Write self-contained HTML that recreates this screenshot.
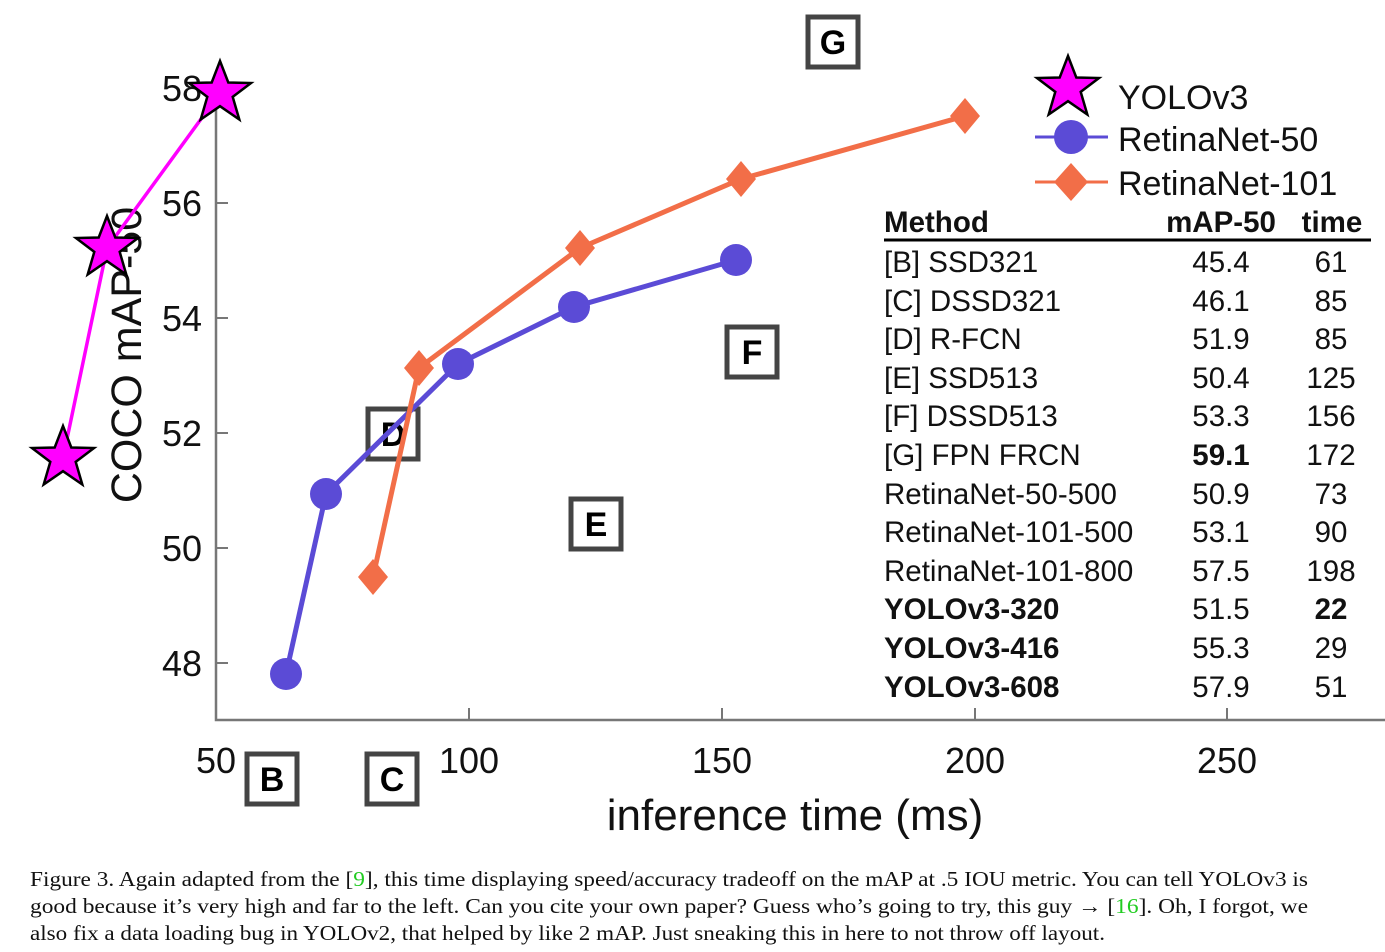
<!DOCTYPE html>
<html><head><meta charset="utf-8"><style>
html,body{margin:0;padding:0;background:#fff;width:1385px;height:952px;overflow:hidden}
svg{display:block}
.t{font-family:"Liberation Sans",sans-serif;fill:#111}
.c{font-family:"Liberation Serif",serif;font-size:21px;fill:#111}
</style></head><body>
<svg width="1385" height="952" viewBox="0 0 1385 952" xmlns="http://www.w3.org/2000/svg">
<defs>
<polygon id="star" points="0,-32 8.3,-10.5 31,-10 12.7,3.9 19.3,26.5 0,13.2 -19.3,26.5 -12.7,3.9 -31,-10 -8.3,-10.5" fill="#f0f" stroke="#000" stroke-width="2.5" stroke-linejoin="miter"/>
</defs>
<path d="M216,88 V720 H1385" fill="none" stroke="#777" stroke-width="2.5"/>
<g stroke="#777" stroke-width="2">
<path d="M216,203h12M216,318h12M216,433h12M216,548h12M216,663h12"/>
<path d="M469,720v-12M722,720v-12M975,720v-12M1227,720v-12"/>
</g>
<g class="t" font-size="36" text-anchor="end">
<text x="202" y="101">58</text><text x="202" y="216">56</text><text x="202" y="331">54</text>
<text x="202" y="446">52</text><text x="202" y="561">50</text><text x="202" y="676">48</text>
</g>
<g class="t" font-size="36" text-anchor="middle">
<text x="216" y="773">50</text><text x="469" y="773">100</text><text x="722" y="773">150</text>
<text x="975" y="773">200</text><text x="1227" y="773">250</text>
</g>
<text class="t" font-size="44" x="795" y="830" text-anchor="middle">inference time (ms)</text>
<text class="t" font-size="43" transform="translate(141,355) rotate(-90)" text-anchor="middle">COCO mAP-50</text>
<g font-family="Liberation Sans,sans-serif" font-weight="bold" font-size="34" text-anchor="middle">
<g><rect x="808" y="17" width="50" height="50" fill="#fff" stroke="#444" stroke-width="5"/><text x="833" y="54">G</text></g>
<g><rect x="727" y="327" width="50" height="50" fill="#fff" stroke="#444" stroke-width="5"/><text x="752" y="364">F</text></g>
<g><rect x="571" y="499" width="50" height="50" fill="#fff" stroke="#444" stroke-width="5"/><text x="596" y="536">E</text></g>
<g><rect x="368" y="409" width="50" height="50" fill="#fff" stroke="#444" stroke-width="5"/><text x="393" y="446">D</text></g>
<g><rect x="247" y="754" width="50" height="50" fill="#fff" stroke="#444" stroke-width="5"/><text x="272" y="791">B</text></g>
<g><rect x="367" y="754" width="50" height="50" fill="#fff" stroke="#444" stroke-width="5"/><text x="392" y="791">C</text></g>
</g>
<polyline points="286,674 326,494 458,364 574,307 736,260" fill="none" stroke="#5b4bd6" stroke-width="5"/>
<g fill="#5b4bd6"><circle cx="286" cy="674" r="16"/><circle cx="326" cy="494" r="16"/><circle cx="458" cy="364" r="16"/><circle cx="574" cy="307" r="16"/><circle cx="736" cy="260" r="16"/></g>
<polyline points="373,577 419,368 580,248 741,179 965,116" fill="none" stroke="#f26e48" stroke-width="5"/>
<g fill="#f26e48">
<polygon points="373,559 388,577 373,595 358,577"/><polygon points="419,350 434,368 419,386 404,368"/>
<polygon points="580,230 595,248 580,266 565,248"/><polygon points="741,161 756,179 741,197 726,179"/>
<polygon points="965,98 980,116 965,134 950,116"/>
</g>
<polyline points="63,458 107,248 220,93" fill="none" stroke="#f0f" stroke-width="3.5"/>
<use href="#star" x="63" y="458"/><use href="#star" x="107" y="248"/><use href="#star" x="220" y="93"/>
<use href="#star" x="1068" y="88"/>
<text class="t" font-size="34" x="1118" y="109">YOLOv3</text>
<line x1="1035" y1="137" x2="1108" y2="137" stroke="#5b4bd6" stroke-width="3"/>
<circle cx="1071" cy="137" r="17" fill="#5b4bd6"/>
<text class="t" font-size="34" x="1118" y="151">RetinaNet-50</text>
<line x1="1035" y1="182" x2="1108" y2="182" stroke="#f26e48" stroke-width="3"/>
<polygon points="1071,163 1088,182 1071,201 1054,182" fill="#f26e48"/>
<text class="t" font-size="34" x="1118" y="195">RetinaNet-101</text>
<g class="t" font-size="29.5">
<text x="884" y="232" font-weight="bold">Method</text>
<text x="1221" y="232" font-weight="bold" text-anchor="middle">mAP-50</text>
<text x="1332" y="232" font-weight="bold" text-anchor="middle">time</text>
<line x1="884" y1="240" x2="1371" y2="240" stroke="#000" stroke-width="3"/>
<g>
<text x="884" y="272">[B] SSD321</text>
<text x="884" y="311">[C] DSSD321</text>
<text x="884" y="349">[D] R-FCN</text>
<text x="884" y="388">[E] SSD513</text>
<text x="884" y="426">[F] DSSD513</text>
<text x="884" y="465">[G] FPN FRCN</text>
<text x="884" y="504">RetinaNet-50-500</text>
<text x="884" y="542">RetinaNet-101-500</text>
<text x="884" y="581">RetinaNet-101-800</text>
<text x="884" y="619" font-weight="bold">YOLOv3-320</text>
<text x="884" y="658" font-weight="bold">YOLOv3-416</text>
<text x="884" y="697" font-weight="bold">YOLOv3-608</text>
</g>
<g text-anchor="middle">
<text x="1221" y="272">45.4</text><text x="1221" y="311">46.1</text><text x="1221" y="349">51.9</text>
<text x="1221" y="388">50.4</text><text x="1221" y="426">53.3</text><text x="1221" y="465" font-weight="bold">59.1</text>
<text x="1221" y="504">50.9</text><text x="1221" y="542">53.1</text><text x="1221" y="581">57.5</text>
<text x="1221" y="619">51.5</text><text x="1221" y="658">55.3</text><text x="1221" y="697">57.9</text>
<text x="1331" y="272">61</text><text x="1331" y="311">85</text><text x="1331" y="349">85</text>
<text x="1331" y="388">125</text><text x="1331" y="426">156</text><text x="1331" y="465">172</text>
<text x="1331" y="504">73</text><text x="1331" y="542">90</text><text x="1331" y="581">198</text>
<text x="1331" y="619" font-weight="bold">22</text><text x="1331" y="658">29</text><text x="1331" y="697">51</text>
</g>
</g>
<text class="c" x="30" y="886" textLength="1278" lengthAdjust="spacingAndGlyphs">Figure 3. Again adapted from the [<tspan fill="#2c2">9</tspan>], this time displaying speed/accuracy tradeoff on the mAP at .5 IOU metric. You can tell YOLOv3 is</text>
<text class="c" x="30" y="913" textLength="1278" lengthAdjust="spacingAndGlyphs">good because it’s very high and far to the left. Can you cite your own paper? Guess who’s going to try, this guy → [<tspan fill="#2c2">16</tspan>]. Oh, I forgot, we</text>
<text class="c" x="30" y="940" textLength="1075" lengthAdjust="spacingAndGlyphs">also fix a data loading bug in YOLOv2, that helped by like 2 mAP. Just sneaking this in here to not throw off layout.</text>
</svg>
</body></html>
